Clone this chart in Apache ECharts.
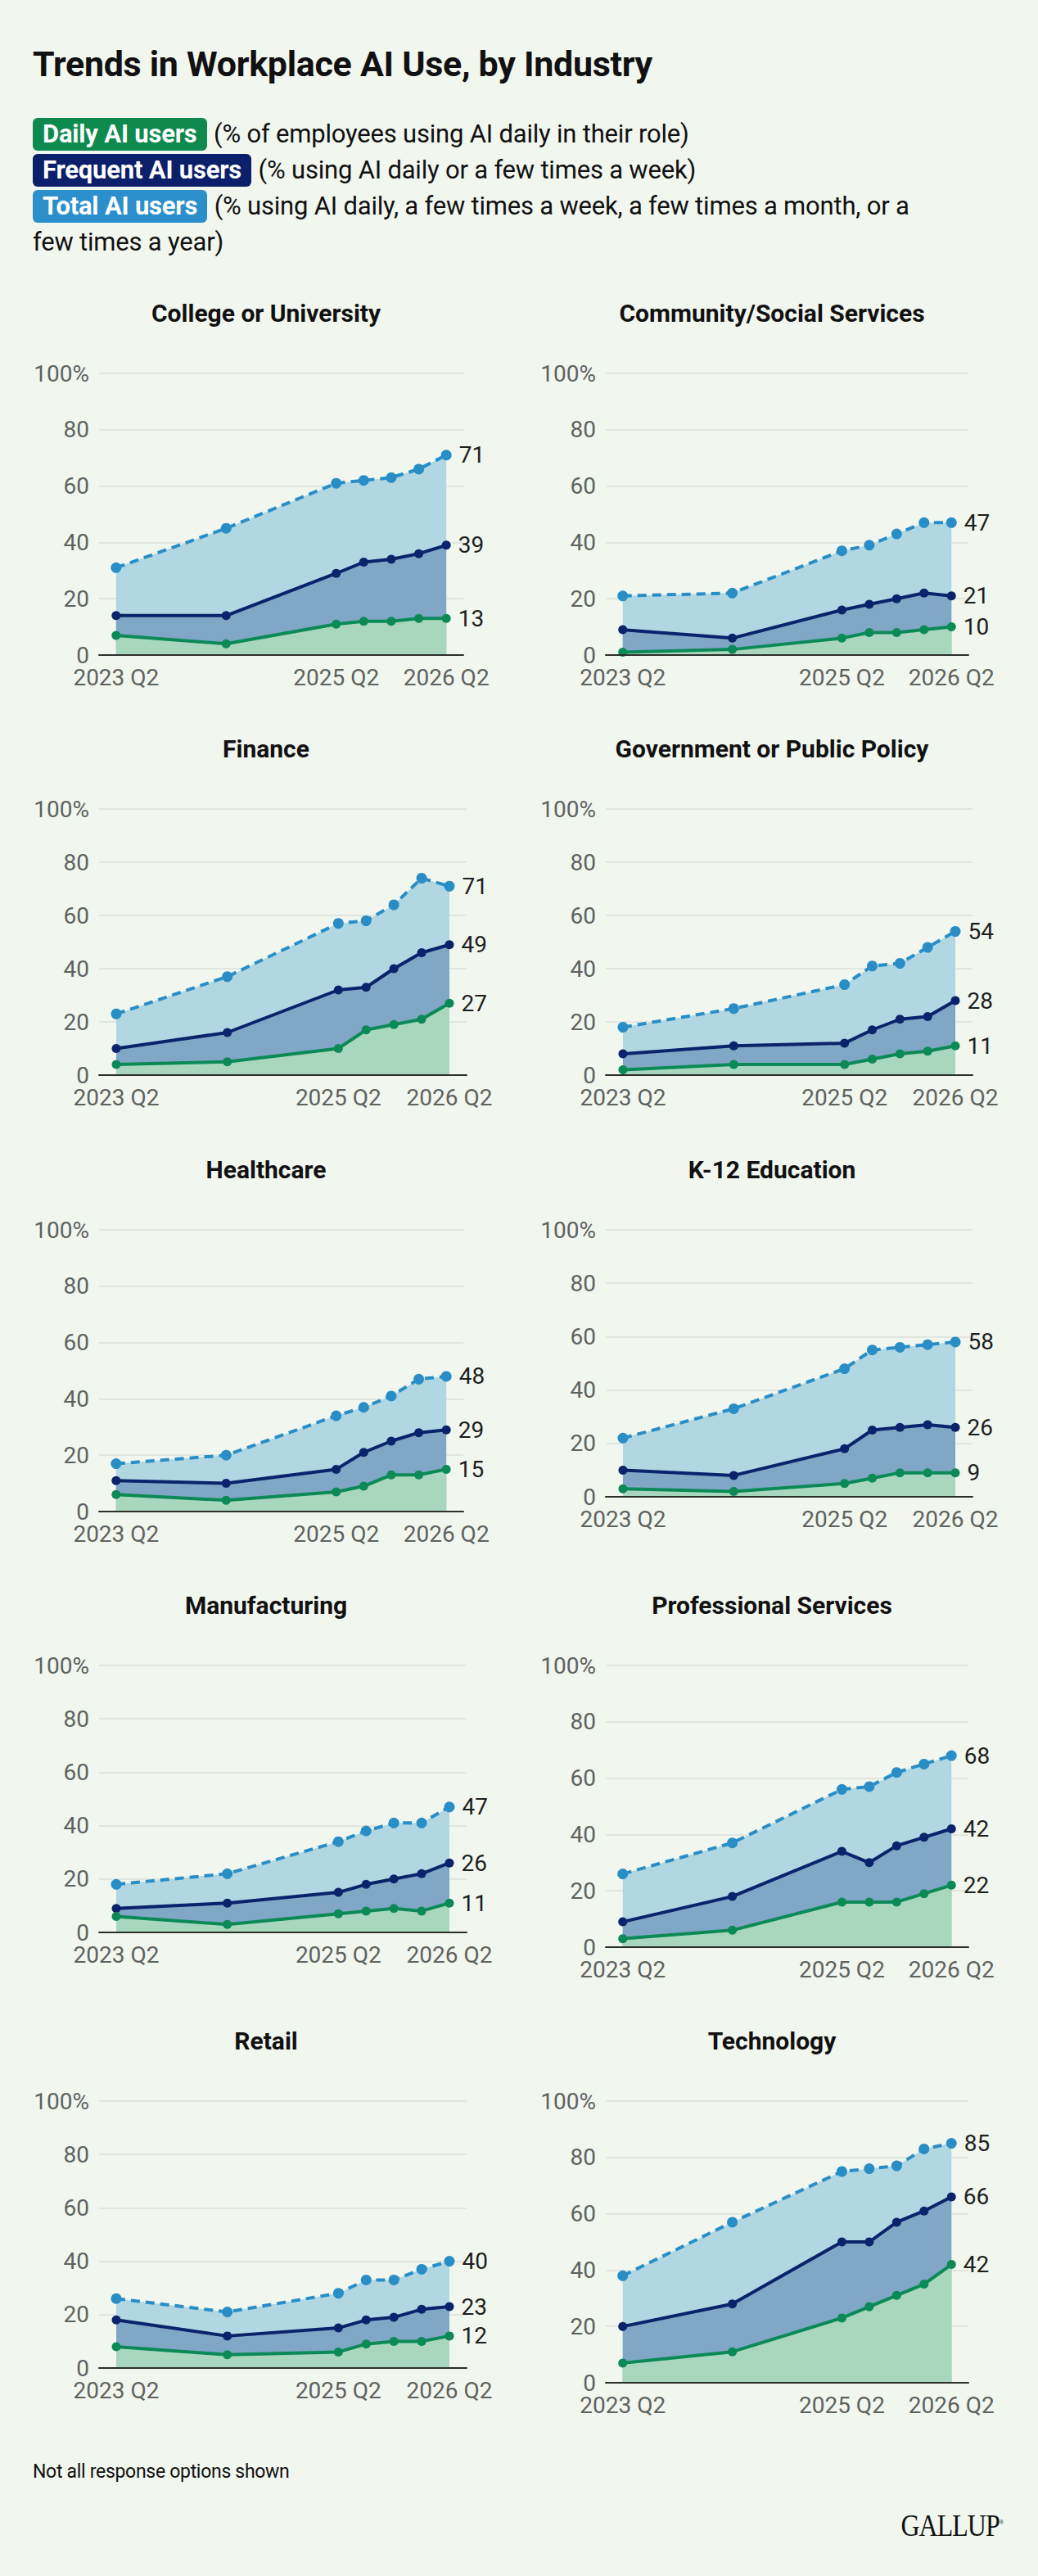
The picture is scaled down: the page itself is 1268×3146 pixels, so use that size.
<!DOCTYPE html>
<html>
<head>
<meta charset="utf-8">
<title>Trends in Workplace AI Use, by Industry</title>
<script src="https://cdn.jsdelivr.net/npm/echarts@6/dist/echarts.min.js"></script>
<style>
  html, body { margin: 0; padding: 0; background: #f1f6ef; }
  #page { position: relative; width: 1268px; height: 3146px; background: #f1f6ef; font-family: Roboto, "Noto Sans", sans-serif; color: #111; }
  #chart { position: absolute; left: 0; top: 0; width: 1268px; height: 3146px; }
  h1 { position: absolute; left: 40px; top: 53px; margin: 0; font-size: 43px; font-weight: 700; letter-spacing: -0.3px; line-height: 50px; white-space: nowrap; }
  .legend { position: absolute; left: 40px; top: 142px; width: 1220px; font-size: 31px; line-height: 44px; letter-spacing: -0.2px; white-space: nowrap; }
  .badge { display: inline-block; line-height: 40px; padding: 0 12px; border-radius: 6px; color: #fff; font-weight: 700; margin-right: 1px; }
  .note { position: absolute; left: 40px; top: 3005px; font-size: 23px; letter-spacing: -0.3px; }
  .logo { position: absolute; right: 43px; top: 3062px; font-family: "Liberation Serif", serif; font-size: 32px; letter-spacing: -1px; white-space: nowrap; transform: scaleY(1.2); transform-origin: right top; }
</style>
</head>
<body>
<div id="page">
  <div id="chart"></div>
  <h1>Trends in Workplace AI Use, by Industry</h1>
  <div class="legend">
    <span class="badge" style="background:#0e8a4e">Daily AI users</span> (% of employees using AI daily in their role)<br>
    <span class="badge" style="background:#0b1f6a">Frequent AI users</span> (% using AI daily or a few times a week)<br>
    <span class="badge" style="background:#2b8fcb">Total AI users</span> (% using AI daily, a few times a week, a few times a month, or a<br>
    few times a year)
  </div>
  <div class="note">Not all response options shown</div>
  <div class="logo">GALLUP<sup style="font-size:7px">®</sup></div>
</div>
<script>
// quarters counted from 2023 Q2
var quarterIndex = [0, 4, 8, 9, 10, 11, 12];
var tickValues = [0, 8, 12];
var tickLabels = ['2023 Q2', '2025 Q2', '2026 Q2'];

var industries = [
  'College or University', 'Community/Social Services',
  'Finance', 'Government or Public Policy',
  'Healthcare', 'K-12 Education',
  'Manufacturing', 'Professional Services',
  'Retail', 'Technology'
];

var totalUsers = [
  [31, 45, 61, 62, 63, 66, 71],
  [21, 22, 37, 39, 43, 47, 47],
  [23, 37, 57, 58, 64, 74, 71],
  [18, 25, 34, 41, 42, 48, 54],
  [17, 20, 34, 37, 41, 47, 48],
  [22, 33, 48, 55, 56, 57, 58],
  [18, 22, 34, 38, 41, 41, 47],
  [26, 37, 56, 57, 62, 65, 68],
  [26, 21, 28, 33, 33, 37, 40],
  [38, 57, 75, 76, 77, 83, 85]
];

var frequentUsers = [
  [14, 14, 29, 33, 34, 36, 39],
  [9, 6, 16, 18, 20, 22, 21],
  [10, 16, 32, 33, 40, 46, 49],
  [8, 11, 12, 17, 21, 22, 28],
  [11, 10, 15, 21, 25, 28, 29],
  [10, 8, 18, 25, 26, 27, 26],
  [9, 11, 15, 18, 20, 22, 26],
  [9, 18, 34, 30, 36, 39, 42],
  [18, 12, 15, 18, 19, 22, 23],
  [20, 28, 50, 50, 57, 61, 66]
];

var dailyUsers = [
  [7, 4, 11, 12, 12, 13, 13],
  [1, 2, 6, 8, 8, 9, 10],
  [4, 5, 10, 17, 19, 21, 27],
  [2, 4, 4, 6, 8, 9, 11],
  [6, 4, 7, 9, 13, 13, 15],
  [3, 2, 5, 7, 9, 9, 9],
  [6, 3, 7, 8, 9, 8, 11],
  [3, 6, 16, 16, 16, 19, 22],
  [8, 5, 6, 9, 10, 10, 12],
  [7, 11, 23, 27, 31, 35, 42]
];

(function() {
  // panel boxes (plot area) in page pixels
  var panels = [
    { left: 121, top: 456, width: 445, height: 344 },
    { left: 740, top: 456, width: 443, height: 344 },
    { left: 121, top: 988, width: 449, height: 325 },
    { left: 740, top: 988, width: 448, height: 325 },
    { left: 121, top: 1502, width: 445, height: 344 },
    { left: 740, top: 1502, width: 448, height: 326 },
    { left: 121, top: 2034, width: 449, height: 326 },
    { left: 740, top: 2034, width: 443, height: 344 },
    { left: 121, top: 2566, width: 449, height: 326 },
    { left: 740, top: 2566, width: 443, height: 344 }
  ];
  var titleX = [325, 943];

  var cTotal = '#2a8ec6', cTotalArea = '#b1d7e2';
  var cFreq = '#0b236b', cFreqArea = '#80a7c5';
  var cDaily = '#0b8a57', cDailyArea = '#a9d7bd';
  var tickColor = '#5f625f';

  var grids = [], xAxes = [], yAxes = [], series = [], graphics = [];

  function pairs(vals) {
    return quarterIndex.map(function(q, k) { return [q, vals[k]]; });
  }
  function endLabel() {
    return {
      show: true, position: 'right', distance: 9,
      fontSize: 28, color: '#1e1e1e', fontFamily: 'Roboto',
      formatter: function(p) { return p.dataIndex === quarterIndex.length - 1 ? p.value[1] : ''; }
    };
  }

  industries.forEach(function(name, i) {
    var b = panels[i];
    grids.push({ left: b.left, top: b.top, width: b.width, height: b.height, containLabel: false });
    xAxes.push({
      gridIndex: i, type: 'value', min: -0.62, max: 12.62, z: 10,
      axisLine: { show: true, lineStyle: { color: '#2b2f2b', width: 2 } },
      axisTick: { show: false },
      splitLine: { show: false },
      axisLabel: {
        customValues: tickValues, margin: 13, fontSize: 28, color: tickColor, fontFamily: 'Roboto',
        formatter: function(v) { return tickLabels[tickValues.indexOf(v)]; }
      }
    });
    yAxes.push({
      gridIndex: i, type: 'value', min: 0, max: 100, interval: 20,
      axisLine: { show: false }, axisTick: { show: false },
      splitLine: { lineStyle: { color: '#dce1db', width: 1.5 } },
      axisLabel: {
        margin: 12, fontSize: 28, color: tickColor, fontFamily: 'Roboto',
        formatter: function(v) { return v === 100 ? '100%' : v; }
      }
    });
    series.push({
      type: 'line', xAxisIndex: i, yAxisIndex: i, z: 2,
      data: pairs(totalUsers[i]),
      symbol: 'circle', symbolSize: 13,
      itemStyle: { color: cTotal },
      lineStyle: { color: cTotal, width: 4, type: [11, 7] },
      areaStyle: { color: cTotalArea, opacity: 1 },
      label: endLabel(), animation: false
    });
    series.push({
      type: 'line', xAxisIndex: i, yAxisIndex: i, z: 3,
      data: pairs(frequentUsers[i]),
      symbol: 'circle', symbolSize: 11,
      itemStyle: { color: cFreq },
      lineStyle: { color: cFreq, width: 4 },
      areaStyle: { color: cFreqArea, opacity: 1 },
      label: endLabel(), animation: false
    });
    series.push({
      type: 'line', xAxisIndex: i, yAxisIndex: i, z: 4,
      data: pairs(dailyUsers[i]),
      symbol: 'circle', symbolSize: 11,
      itemStyle: { color: cDaily },
      lineStyle: { color: cDaily, width: 4 },
      areaStyle: { color: cDailyArea, opacity: 1 },
      label: endLabel(), animation: false
    });
    graphics.push({
      type: 'text', x: titleX[i % 2], y: b.top - 74,
      style: {
        text: name, align: 'center', verticalAlign: 'middle',
        font: '700 30px Roboto', fill: '#111'
      }
    });
  });

  var chart = echarts.init(document.getElementById('chart'), null, { renderer: 'svg' });
  chart.setOption({
    animation: false,
    grid: grids,
    xAxis: xAxes,
    yAxis: yAxes,
    series: series,
    graphic: graphics
  });
  window.addEventListener('resize', function() { chart.resize(); });
})();
</script>
</body>
</html>
